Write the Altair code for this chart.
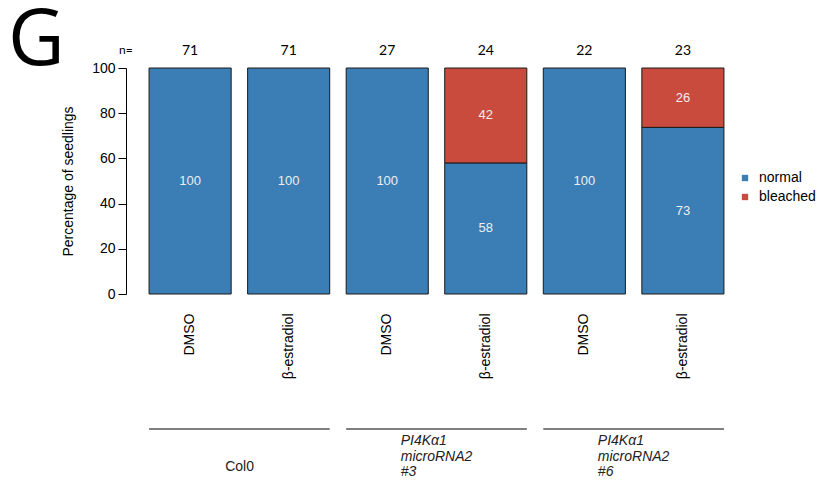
import altair as alt
import pandas as pd

# Bars: one per genotype x treatment
bar_keys = ["Col0|DMSO", "Col0|β-estradiol", "mi3|DMSO", "mi3|β-estradiol", "mi6|DMSO", "mi6|β-estradiol"]
n_seedlings = [71, 71, 27, 24, 22, 23]
normal_pct = [100, 100, 100, 58, 100, 73]
bleached_pct = [0, 0, 0, 42, 0, 26]

status_names = ["normal", "bleached"]
status_colors = ["#3A7EB5", "#C94B3D"]

# Genotype groups drawn under the treatment labels
group_first = ["Col0|DMSO", "mi3|DMSO", "mi6|DMSO"]
group_last = ["Col0|β-estradiol", "mi3|β-estradiol", "mi6|β-estradiol"]
group_labels = ["Col0", "PI4Kα1\nmicroRNA2\n#3", "PI4Kα1\nmicroRNA2\n#6"]
group_italic = [False, True, True]

FONT = "Liberation Sans"

rows = []
for k, nv, bv in zip(bar_keys, normal_pct, bleached_pct):
    for order, (s, v) in enumerate(zip(status_names, [nv, bv])):
        if v > 0:
            rows.append({"key": k, "status": s, "pct": v, "order": order})
seg = pd.DataFrame(rows)
counts = pd.DataFrame({"key": bar_keys, "n": [str(v) for v in n_seedlings]})
groups = pd.DataFrame({"first": group_first, "last": group_last,
                       "label": group_labels, "italic": group_italic})

x_scale = alt.Scale(domain=bar_keys, paddingInner=0.167, paddingOuter=0.234)
x_axis = alt.Axis(title=None, domain=False, ticks=False, labelAngle=-90,
                  labelPadding=19, labelFontSize=14, labelFont=FONT,
                  labelColor="black", labelExpr="split(datum.label, '|')[1]")

stacked = alt.Chart(seg).transform_stack(
    stack="pct", groupby=["key"], as_=["y0", "y1"], offset="normalize",
    sort=[alt.SortField("order", order="ascending")]
).transform_calculate(mid="(datum.y0 + datum.y1) / 2")

bars = stacked.mark_bar(stroke="#1a1a1a", strokeWidth=1).encode(
    x=alt.X("key:N", scale=x_scale, axis=x_axis, sort=bar_keys),
    y=alt.Y("y0:Q", scale=alt.Scale(domain=[0, 1], nice=False),
            axis=alt.Axis(values=[0, 0.2, 0.4, 0.6, 0.8, 1.0],
                          labelExpr="format(datum.value * 100, 'd')",
                          title="Percentage of seedlings", titleFont=FONT,
                          titleFontSize=14, titleFontWeight="normal",
                          titleColor="black", titlePadding=16,
                          labelFont=FONT, labelFontSize=14, labelColor="black",
                          tickSize=8, tickColor="black", domainColor="black",
                          labelPadding=3, grid=False)),
    y2="y1:Q",
    color=alt.Color("status:N",
                    scale=alt.Scale(domain=status_names, range=status_colors),
                    legend=alt.Legend(title=None, orient="none", legendX=612,
                                      legendY=103, symbolType="square",
                                      symbolSize=40, symbolStrokeWidth=0,
                                      labelFont=FONT, labelFontSize=14,
                                      labelColor="black", rowPadding=5,
                                      labelOffset=7)),
)

seg_text = stacked.mark_text(font=FONT, fontSize=13, color="#EEEEEE").encode(
    x=alt.X("key:N", scale=x_scale, sort=bar_keys),
    y="mid:Q",
    text="pct:Q",
)

n_text = alt.Chart(counts).mark_text(font="Lato", fontSize=14, color="black",
                                     baseline="middle").encode(
    x=alt.X("key:N", scale=x_scale, sort=bar_keys),
    y=alt.value(-17),
    text="n:N",
)

n_prefix = alt.Chart(pd.DataFrame({"t": ["n="]})).mark_text(
    font="Lato", fontSize=12, color="black", align="left", baseline="middle"
).encode(x=alt.value(-7), y=alt.value(-18), text="t:N")

group_lines = alt.Chart(groups).mark_rule(color="#555555", strokeWidth=1.5).encode(
    x=alt.X("first:N", scale=x_scale, sort=bar_keys, bandPosition=0),
    x2=alt.X2("last:N", bandPosition=1),
    y=alt.value(361),
)

def group_text(italic, dx, align, y):
    return alt.Chart(groups).transform_filter(
        f"datum.italic == {str(italic).lower()}"
    ).mark_text(font=FONT, fontSize=14, color="#222222", lineBreak="\n",
                lineHeight=15.5, align=align, baseline="middle", dx=dx,
                fontStyle="italic" if italic else "normal").encode(
        x=alt.X("last:N", scale=x_scale, sort=bar_keys, bandPosition=0),
        y=alt.value(y),
        text="label:N",
    )

chart = alt.layer(
    bars, seg_text, n_text, n_prefix, group_lines,
    group_text(False, -8, "center", 399), group_text(True, -44, "left", 373),
).properties(
    width=621, height=226,
    autosize="none",
    background="white",
    padding={"left": 126, "top": 68, "right": 85, "bottom": 190},
    title=alt.TitleParams("G", anchor="start", frame="group", dx=-118, dy=37,
                          fontSize=78, font="Open Sans", fontWeight="normal",
                          color="black", offset=0),
).configure_view(stroke="transparent", strokeWidth=0)

chart.save("out.html", embed_options={"renderer": "svg", "actions": False})
